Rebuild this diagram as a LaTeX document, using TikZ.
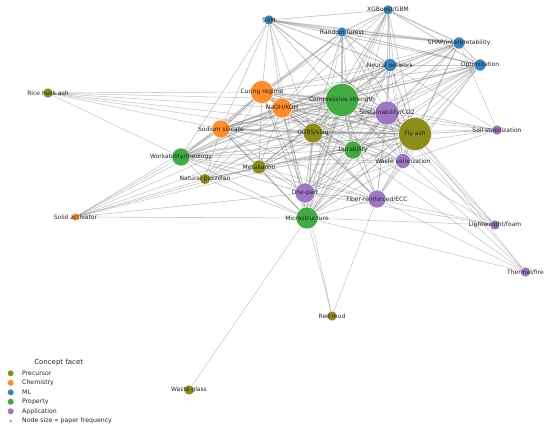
\documentclass[tikz,border=0pt]{standalone}
\usepackage{fontspec}
\setmainfont{DejaVu Sans}
\definecolor{cPre}{RGB}{141,141,26}
\definecolor{cChe}{RGB}{255,140,38}
\definecolor{cML}{RGB}{53,133,188}
\definecolor{cPro}{RGB}{65,170,65}
\definecolor{cApp}{RGB}{159,118,196}
\definecolor{txt}{RGB}{38,38,38}
\pgfdeclarelayer{bg}
\pgfsetlayers{bg,main}
\tikzset{
  nd/.style={circle, draw=white, line width=0.4pt, inner sep=0pt, minimum size=#1},
  lbl/.style={font=\fontsize{6}{7}\selectfont, text=txt, inner sep=0pt},
  edge/.style={draw=black!50, draw opacity=0.45},
  legtxt/.style={font=\fontsize{6.2}{7}\selectfont, text=txt, anchor=west, inner sep=0pt},
}
\begin{document}
\begin{tikzpicture}[x=1pt,y=-1pt]
\useasboundingbox (0,0) rectangle (550,429);
% ---------- nodes ----------
% ML
\node[nd=10pt, fill=cML] (svm) at (269,20) {};
\node[nd=10pt, fill=cML] (xgb) at (388,10) {};
\node[nd=10pt, fill=cML] (rf) at (342,32) {};
\node[nd=12pt, fill=cML] (shap) at (459,43) {};
\node[nd=13pt, fill=cML] (nn) at (390,65) {};
\node[nd=12pt, fill=cML] (opt) at (480,65) {};
% Chemistry
\node[nd=23pt, fill=cChe] (cur) at (262,92) {};
\node[nd=20pt, fill=cChe] (naoh) at (282,108) {};
\node[nd=18pt, fill=cChe] (sil) at (221,129) {};
\node[nd=8pt, fill=cChe] (solid) at (75.5,217) {};
% Property
\node[nd=33pt, fill=cPro] (cs) at (342,100) {};
\node[nd=18pt, fill=cPro] (dur) at (353,150) {};
\node[nd=18pt, fill=cPro] (work) at (181,157) {};
\node[nd=22pt, fill=cPro] (micro) at (307,218) {};
% Precursor
\node[nd=10pt, fill=cPre] (rha) at (48,93) {};
\node[nd=20pt, fill=cPre] (ggbs) at (313,133) {};
\node[nd=33pt, fill=cPre] (fa) at (415,134) {};
\node[nd=14pt, fill=cPre] (mk) at (259,167) {};
\node[nd=11pt, fill=cPre] (np) at (205,179) {};
\node[nd=10pt, fill=cPre] (rm) at (332,316) {};
\node[nd=10pt, fill=cPre] (wg) at (189,390) {};
% Application
\node[nd=24pt, fill=cApp] (sus) at (387,113) {};
\node[nd=10pt, fill=cApp] (soil) at (497,130) {};
\node[nd=15pt, fill=cApp] (wv) at (403,161) {};
\node[nd=20pt, fill=cApp] (op) at (305,193) {};
\node[nd=18pt, fill=cApp] (fib) at (377,199) {};
\node[nd=10pt, fill=cApp] (lw) at (495,225) {};
\node[nd=10pt, fill=cApp] (tf) at (525.5,272) {};
% ---------- edges ----------
\begin{pgfonlayer}{bg}
\foreach \a/\b/\w in {
 svm/xgb/0.5, svm/rf/1.6, svm/shap/1.3, svm/nn/0.8, svm/opt/0.6, svm/cs/0.6, svm/cur/0.4, svm/sil/0.4, svm/fa/0.4, svm/ggbs/0.4, svm/work/0.4, svm/sus/0.4, svm/naoh/0.4, svm/micro/0.3,
 xgb/rf/0.8, xgb/shap/1.3, xgb/nn/0.9, xgb/opt/0.8, xgb/cs/0.8, xgb/fa/0.5, xgb/ggbs/0.5, xgb/sus/0.4, xgb/naoh/0.4, xgb/cur/0.4, xgb/dur/0.3, xgb/micro/0.3, xgb/op/0.3, xgb/wv/0.3,
 rf/shap/1.6, rf/nn/1.0, rf/opt/0.8, rf/cs/1.0, rf/fa/0.6, rf/ggbs/0.6, rf/sus/0.4, rf/cur/0.4, rf/naoh/0.4, rf/sil/0.4, rf/work/0.3, rf/dur/0.4, rf/micro/0.3,
 shap/nn/0.8, shap/opt/0.8, shap/cs/0.8, shap/fa/0.6, shap/ggbs/0.5, shap/sus/0.4, shap/naoh/0.4, shap/cur/0.3, shap/sil/0.3, shap/soil/0.3, shap/dur/0.3, shap/wv/0.3, shap/micro/0.3,
 nn/opt/0.6, nn/cs/1.2, nn/fa/0.8, nn/ggbs/0.8, nn/sus/0.5, nn/naoh/0.5, nn/cur/0.5, nn/sil/0.4, nn/dur/0.5, nn/micro/0.4, nn/work/0.4, nn/mk/0.4, nn/op/0.4, nn/fib/0.3, nn/wv/0.3, nn/soil/0.3,
 opt/cs/0.8, opt/fa/0.6, opt/ggbs/0.5, opt/sus/0.5, opt/naoh/0.4, opt/cur/0.4, opt/sil/0.3, opt/dur/0.4, opt/micro/0.3, opt/wv/0.3, opt/op/0.3, opt/fib/0.3, opt/mk/0.3,
 cur/naoh/1.5, cur/sil/1.2, cur/cs/1.8, cur/fa/1.2, cur/ggbs/1.0, cur/micro/0.8, cur/dur/0.6, cur/work/0.6, cur/sus/0.5, cur/mk/0.5, cur/op/0.5, cur/rha/0.3, cur/fib/0.4, cur/wv/0.3, cur/np/0.3, cur/lw/0.3,
 naoh/sil/1.5, naoh/cs/1.8, naoh/fa/1.5, naoh/ggbs/1.2, naoh/micro/1.0, naoh/dur/0.8, naoh/work/0.8, naoh/mk/0.6, naoh/sus/0.6, naoh/op/0.6, naoh/fib/0.4, naoh/wv/0.4, naoh/rha/0.3, naoh/np/0.3, naoh/soil/0.3, naoh/solid/0.3,
 sil/cs/1.5, sil/fa/1.2, sil/ggbs/1.2, sil/micro/0.8, sil/work/1.0, sil/dur/0.6, sil/mk/0.6, sil/op/0.6, sil/sus/0.5, sil/np/0.4, sil/rha/0.3, sil/fib/0.4, sil/wv/0.3, sil/solid/0.3,
 solid/op/0.4, solid/work/0.3, solid/micro/0.4, solid/ggbs/0.3, solid/mk/0.3, solid/cs/0.3, solid/fa/0.3, solid/np/0.3,
 cs/fa/2.0, cs/ggbs/1.8, cs/sus/1.5, cs/dur/1.2, cs/micro/1.5, cs/work/1.2, cs/mk/1.0, cs/op/1.0, cs/fib/0.8, cs/wv/0.8, cs/rha/0.3, cs/np/0.4, cs/soil/0.4, cs/lw/0.3, cs/tf/0.3,
 dur/fa/1.2, dur/ggbs/1.0, dur/micro/1.0, dur/sus/0.6, dur/op/0.5, dur/fib/0.6, dur/wv/0.5, dur/work/0.5, dur/mk/0.5, dur/np/0.3, dur/tf/0.3, dur/soil/0.3,
 work/fa/0.8, work/ggbs/0.8, work/micro/0.6, work/mk/0.5, work/op/0.6, work/np/0.4, work/sus/0.4, work/fib/0.4, work/rha/0.3, work/wv/0.3,
 micro/fa/1.2, micro/ggbs/1.2, micro/mk/0.8, micro/op/0.8, micro/sus/0.6, micro/fib/0.6, micro/wv/0.5, micro/np/0.4, micro/rm/0.3, micro/wg/0.3, micro/lw/0.3, micro/tf/0.3,
 rha/fa/0.3, rha/ggbs/0.3,
 ggbs/fa/1.5, ggbs/sus/1.0, ggbs/mk/0.6, ggbs/op/0.8, ggbs/fib/0.6, ggbs/wv/0.5, ggbs/np/0.3, ggbs/soil/0.3,
 fa/sus/1.5, fa/mk/0.5, fa/op/0.6, fa/fib/0.8, fa/wv/0.8, fa/soil/0.6, fa/lw/0.3, fa/tf/0.3, fa/np/0.3,
 mk/op/0.5, mk/sus/0.4, mk/fib/0.3, mk/np/0.3, mk/wv/0.3,
 rm/op/0.3, rm/fib/0.3,
 sus/wv/0.8, sus/op/0.6, sus/fib/0.5, sus/soil/0.4, sus/lw/0.3, sus/tf/0.3,
 wv/soil/0.4, wv/op/0.4, wv/fib/0.4,
 op/fib/0.5, op/lw/0.3,
 fib/lw/0.3, fib/tf/0.3}
 {\draw[edge, line width={0.3pt+0.8pt*\w}] (\a) -- (\b);}
\end{pgfonlayer}
% ---------- labels ----------
\foreach \n/\t in {svm/SVM, xgb/XGBoost\slash GBM, rf/Random forest, shap/SHAP\slash interpretability, nn/Neural network, opt/Optimization,
 cur/Curing regime, naoh/NaOH\slash KOH, sil/Sodium silicate, solid/Solid activator,
 cs/Compressive strength, dur/Durability, work/Workability\slash rheology, micro/Microstructure,
 rha/Rice husk ash, ggbs/GGBS\slash slag, fa/Fly ash, mk/Metakaolin, np/Natural pozzolan, rm/Red mud, wg/Waste glass,
 sus/Sustainability\slash CO2, soil/Soil stabilization, wv/Waste valorization, op/One-part, fib/Fiber-reinforced\slash ECC, lw/Lightweight\slash foam, tf/Thermal\slash fire}
 {\node[lbl] (\n-l) at (\n) {\t};}
% ---------- legend ----------
\node[font=\fontsize{7}{8}\selectfont, text=txt, inner sep=0pt] (legt) at (58.7,363) {Concept facet};
\foreach \i/\c/\t in {0/cPre/Precursor, 1/cChe/Chemistry, 2/cML/ML, 3/cPro/Property, 4/cApp/Application}{
  \node[circle, fill=\c, inner sep=0pt, minimum size=6pt] (lm\i) at (10.7,373.3+9.5*\i) {};
  \node[legtxt] (lt\i) at (22,373.3+9.5*\i) {\t};
}
\node[circle, fill=black!50, inner sep=0pt, minimum size=2.4pt] (lm5) at (10.7,421) {};
\node[legtxt] (lt5) at (22,421) {Node size ∝ paper frequency};
\end{tikzpicture}
\end{document}
